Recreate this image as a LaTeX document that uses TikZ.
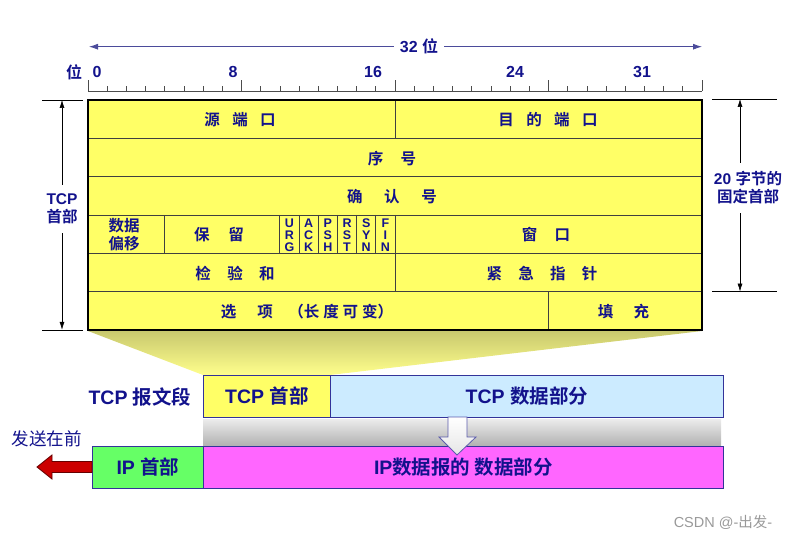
\documentclass[tikz,border=0pt]{standalone}
\usepackage{fontspec}
\setmainfont{Liberation Sans}
\newfontfamily\cjk{Noto Sans CJK SC}[BoldFont={* Bold}]
\newcommand\zh[1]{{\cjk #1}}
\newcommand\cgap[1]{\hspace{#1em}}
\definecolor{navytext}{HTML}{12128C}
\definecolor{hdryellow}{HTML}{FFFF66}
\definecolor{datablue}{HTML}{CCEBFF}
\definecolor{ipgreen}{HTML}{66FF66}
\definecolor{ipmagenta}{HTML}{FF66FF}
\definecolor{boxedge}{HTML}{333399}
\definecolor{arrowred}{HTML}{CC0000}
\definecolor{widthblue}{HTML}{4B4B9B}
\usetikzlibrary{arrows.meta}

\tikzset{
  lbl/.style={text=navytext, font=\bfseries\fontsize{15.5}{18}\selectfont, inner sep=0pt},
  rulerlbl/.style={text=navytext, font=\bfseries\fontsize{16}{18}\selectfont, inner sep=0pt},
  biglbl/.style={text=navytext, font=\bfseries\fontsize{19.5}{21}\selectfont, inner sep=0pt},
  flag/.style={text=navytext, font=\bfseries\fontsize{12.5}{11.8}\selectfont, align=center, inner sep=0pt},
  cellline/.style={draw=black!75, line width=0.8pt},
  dimline/.style={black, line width=0.6pt},
  dimarrow/.style={-{Latex[length=8pt,width=5pt]}, black, line width=0.6pt},
  segbox/.style={draw=boxedge, line width=0.9pt, anchor=north west, minimum height=42pt,
    inner sep=0pt, text=navytext, font=\bfseries\fontsize{19.5}{21}\selectfont},
}

\begin{document}
\begin{tikzpicture}[x=1pt, y=-1pt]
  \useasboundingbox (0,0) rectangle (800,540);
  \def\bw{19.1875}

  % Coordinates
  \coordinate (wl) at (89,46.7);
  \coordinate (wr) at (702,46.7);
  \coordinate (lt) at (62,100);
  \coordinate (lb) at (62,329.8);
  \coordinate (rt) at (740,99);
  \coordinate (rb) at (740,291.5);

  % Width arrow and ruler
  \node[rulerlbl, outer sep=6pt] (width) at (419,46.7) {32 \zh{位}};
  \draw[widthblue, line width=0.8pt, -{Latex[length=9pt,width=6pt]}] (width) -- (wl);
  \draw[widthblue, line width=0.8pt, -{Latex[length=9pt,width=6pt]}] (width) -- (wr);
  \node[rulerlbl] (bitword) at (74,72) {\zh{位}};
  \foreach \x/\t in {97/0,233/8,373/16,515/24,642/31}
    \node[rulerlbl] (lab\t) at (\x,72) {\t};
  \draw[black!70, line width=0.7pt] (88,91) -- (702,91);
  \foreach \i in {0,...,32} {
    \pgfmathsetmacro\tk{mod(\i,8)==0 ? 11 : 5}
    \draw[black!70, line width=0.7pt] (88+\i*\bw,91) -- ++(0,-\tk);
  }

  % Zoom wedge
  \shade[top color={rgb,255:red,200;green,200;blue,110}, bottom color={rgb,255:red,255;green,255;blue,140}]
    (88,331) -- (702,331) -- (330,375) -- (203,375) -- cycle;

  % Header table
  \fill[hdryellow] (88,100) rectangle (702,329.8);
  \foreach \y in {138.3,176.6,214.9,253.2,291.5}
    \draw[cellline] (88,\y) -- (702,\y);
  \draw[cellline] (395,100) -- (395,138.3);
  \draw[cellline] (395,214.9) -- (395,291.5);
  \draw[cellline] (88+4*\bw,214.9) -- ++(0,38.3);
  \foreach \i in {10,...,15}
    \draw[cellline] (88+\i*\bw,214.9) -- ++(0,38.3);
  \draw[cellline] (88+24*\bw,291.5) -- (88+24*\bw,329.8);
  \draw[black, line width=2.2pt] (88,100) rectangle (702,329.8);

  \node[lbl] (srcport) at (240,120) {\zh{源\cgap{0.8}端\cgap{0.8}口}};
  \node[lbl] (dstport) at (548,120) {\zh{目\cgap{0.8}的\cgap{0.8}端\cgap{0.8}口}};
  \node[lbl] (seqno) at (392,158.5) {\zh{序\cgap{1.1}号}};
  \node[lbl] (ackno) at (392,197) {\zh{确\cgap{1.4}认\cgap{1.4}号}};
  \node[lbl, align=center] (offset) at (124,234.5) {\zh{数据}\\\zh{偏移}};
  \node[lbl] (resv) at (219,235) {\zh{保\cgap{1.2}留}};
  \foreach \i/\f in {0/U\\R\\G, 1/A\\C\\K, 2/P\\S\\H, 3/R\\S\\T, 4/S\\Y\\N, 5/F\\I\\N}
    \node[flag] (flag\i) at (88+10.5*\bw+\i*\bw,235) {\f};
  \node[lbl] (window) at (546,235) {\zh{窗\cgap{1.1}口}};
  \node[lbl] (chksum) at (235,273.5) {\zh{检\cgap{1.05}验\cgap{1.05}和}};
  \node[lbl] (urgptr) at (542,273.5) {\zh{紧\cgap{1.05}急\cgap{1.05}指\cgap{1.05}针}};
  \node[lbl] (options) at (307,312) {\zh{选\cgap{1.35}项\cgap{1}（长\cgap{0.25}度\cgap{0.25}可\cgap{0.25}变）}};
  \node[lbl] (padding) at (623.5,312) {\zh{填\cgap{1.3}充}};

  % Side dimensions
  \draw[dimline] (42,100) -- (83,100);
  \draw[dimline] (42,329.8) -- (83,329.8);
  \node[lbl, align=center, outer sep=9pt] (hdrtxt) at (62,209) {TCP\\\zh{首部}};
  \draw[dimarrow] (hdrtxt.north -| lt) -- (lt);
  \draw[dimarrow] (hdrtxt.south -| lb) -- (lb);
  \draw[dimline] (712,99) -- (777,99);
  \draw[dimline] (712,291.5) -- (777,291.5);
  \node[lbl, align=center, outer sep=9pt] (fixtxt) at (748,188) {20 \zh{字节的}\\\zh{固定首部}};
  \draw[dimarrow] (fixtxt.north -| rt) -- (rt);
  \draw[dimarrow] (fixtxt.south -| rb) -- (rb);

  % Segment and datagram
  \node[biglbl] (segtxt) at (140,397) {TCP \zh{报文段}};
  \node[segbox, fill=hdryellow, minimum width=127pt] (tcphdr) at (203,375) {TCP \zh{首部}};
  \node[segbox, fill=datablue, minimum width=393pt] (tcpdata) at (330,375) {TCP \zh{数据部分}};
  \shade[top color=gray!15, bottom color=gray!60] (203,419) rectangle (721,445);
  \node[segbox, fill=ipgreen, minimum width=111pt] (iphdr) at (92,446) {IP \zh{首部}};
  \node[segbox, fill=ipmagenta, minimum width=520pt] (ipdata) at (203,446) {IP\zh{数据报的 数据部分}};
  \shade[top color=white, bottom color=gray!20, draw=boxedge!80, line width=0.8pt]
    (448,417) -- (467,417) -- (467,437) -- (476,437) -- (457,455) -- (439,437) -- (448,437) -- cycle;

  % Send direction
  \node[text=navytext, font=\cjk\fontsize{17.5}{19}\selectfont, inner sep=0pt] (sendtxt) at (47,439) {发送在前};
  \filldraw[fill=arrowred, draw=arrowred!50!black, line width=0.8pt]
    (92,461.5) -- (52,461.5) -- (52,455) -- (37,467) -- (52,479) -- (52,472.5) -- (92,472.5) -- cycle;

  % Watermark
  \node[text=gray!80, font=\fontsize{14.5}{16}\selectfont, inner sep=0pt] (mark) at (723,522) {CSDN @-\zh{出发}-};
\end{tikzpicture}
\end{document}
